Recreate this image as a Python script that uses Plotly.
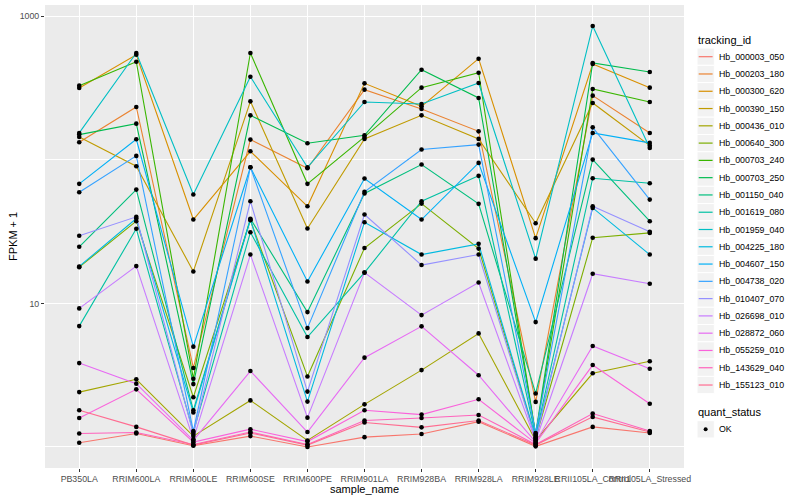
import numpy as np
import plotly.graph_objects as go

samples = ["PB350LA", "RRIM600LA", "RRIM600LE", "RRIM600SE", "RRIM600PE",
           "RRIM901LA", "RRIM928BA", "RRIM928LA", "RRIM928LE",
           "RRII105LA_Control", "RRII105LA_Stressed"]

tracking_ids = ["Hb_000003_050", "Hb_000203_180", "Hb_000300_620", "Hb_000390_150",
                "Hb_000436_010", "Hb_000640_300", "Hb_000703_240", "Hb_000703_250",
                "Hb_001150_040", "Hb_001619_080", "Hb_001959_040", "Hb_004225_180",
                "Hb_004607_150", "Hb_004738_020", "Hb_010407_070", "Hb_026698_010",
                "Hb_028872_060", "Hb_055259_010", "Hb_143629_040", "Hb_155123_010"]

colors = ["#F8766D", "#EA8331", "#D89000", "#C09B00", "#A3A500", "#7CAE00", "#39B600",
          "#00BB4E", "#00BF7D", "#00C1A3", "#00BFC4", "#00BAE0", "#00B0F6", "#35A2FF",
          "#9590FF", "#C77CFF", "#E76BF3", "#FA62DB", "#FF62BC", "#FF6C91"]

# FPKM + 1 per sample (same order as samples)
hb_000003_050 = [1.07, 1.24, 1.02, 1.19, 1.00, 1.17, 1.23, 1.50, 1.01, 1.38, 1.25]
hb_000203_180 = [132.6, 233.8, 3.55, 138.5, 87.4, 308.5, 226.4, 158.1, 2.06, 280.3, 154.1]
hb_000300_620 = [316.9, 540.5, 38.4, 114.8, 47.5, 341.4, 236.0, 507.0, 28.5, 465.6, 318.6]
hb_000390_150 = [144.5, 90.3, 16.7, 255.8, 33.3, 140.0, 204.3, 140.0, 36.2, 249.3, 125.7]
hb_000436_010 = [2.41, 2.96, 1.19, 2.11, 1.11, 1.98, 3.43, 6.18, 1.11, 3.26, 3.95]
hb_000640_300 = [17.9, 37.4, 2.22, 38.0, 3.10, 24.3, 49.6, 24.1, 1.15, 28.7, 31.0]
hb_000703_240 = [328.9, 483.2, 2.99, 555.4, 68.1, 144.5, 318.6, 405.1, 1.21, 312.0, 253.3]
hb_000703_250 = [150.0, 178.9, 2.74, 204.3, 130.5, 148.3, 425.0, 270.1, 1.23, 473.2, 409.6]
hb_001150_040 = [24.8, 62.1, 1.80, 38.9, 8.70, 58.3, 92.8, 49.4, 2.36, 100.5, 37.4]
hb_001619_080 = [6.95, 33.1, 1.27, 31.3, 5.83, 16.4, 51.5, 77.4, 1.19, 74.5, 68.7]
hb_001959_040 = [154.1, 555.4, 57.4, 379.9, 88.8, 253.3, 245.3, 343.5, 20.5, 856.0, 121.2]
hb_004225_180 = [18.1, 39.0, 1.74, 38.4, 2.07, 36.8, 21.9, 26.0, 1.17, 46.3, 21.9]
hb_004607_150 = [68.1, 139.1, 5.00, 88.8, 14.2, 74.1, 38.4, 95.3, 7.41, 154.1, 131.3]
hb_004738_020 = [59.5, 106.6, 1.29, 88.8, 6.73, 59.9, 118.0, 127.8, 1.25, 168.6, 52.9]
hb_010407_070 = [29.6, 40.1, 1.23, 51.5, 2.43, 41.6, 18.5, 21.9, 1.13, 47.5, 31.6]
hb_026698_010 = [9.23, 18.2, 1.13, 21.9, 1.60, 16.4, 8.29, 14.0, 1.10, 16.1, 13.7]
hb_028872_060 = [3.84, 2.76, 1.11, 3.38, 1.27, 4.19, 6.92, 3.16, 1.08, 5.05, 3.51]
hb_055259_010 = [1.59, 2.52, 1.08, 1.33, 1.09, 1.80, 1.68, 2.15, 1.06, 3.72, 2.00]
hb_143629_040 = [1.24, 1.26, 1.04, 1.27, 1.04, 1.53, 1.59, 1.67, 1.04, 1.71, 1.29]
hb_155123_010 = [1.80, 1.38, 1.03, 1.25, 1.03, 1.48, 1.37, 1.53, 1.03, 1.62, 1.27]

series_values = [hb_000003_050, hb_000203_180, hb_000300_620, hb_000390_150,
                 hb_000436_010, hb_000640_300, hb_000703_240, hb_000703_250,
                 hb_001150_040, hb_001619_080, hb_001959_040, hb_004225_180,
                 hb_004607_150, hb_004738_020, hb_010407_070, hb_026698_010,
                 hb_028872_060, hb_055259_010, hb_143629_040, hb_155123_010]

quant_levels = ["OK"]

FONT = "Liberation Sans, Arial, Helvetica, sans-serif"

fig = go.Figure()

# lines first (ggplot geom_line), then points on top
for name, col, vals in zip(tracking_ids, colors, series_values):
    fig.add_trace(go.Scatter(x=samples, y=vals, mode="lines", name=name,
                             line=dict(color=col, width=1.1), showlegend=False,
                             hoverinfo="skip"))
for name, vals in zip(tracking_ids, series_values):
    fig.add_trace(go.Scatter(x=samples, y=vals, mode="markers", name=name,
                             marker=dict(color="black", size=4.6), showlegend=False))

all_vals = np.concatenate([np.array(v) for v in series_values])
lo, hi = np.log10(all_vals.min()), np.log10(all_vals.max())
pad = (hi - lo) * 0.05

W, H = 800, 500
ML, MR, MT, MB = 45, 116, 5, 32
PW, PH = W - ML - MR, H - MT - MB


def px(x):
    return (x - ML) / PW


def py(y):
    return (H - MB - y) / PH


fig.update_layout(
    width=W, height=H,
    margin=dict(l=ML, r=MR, t=MT, b=MB),
    paper_bgcolor="white", plot_bgcolor="#EBEBEB",
    font=dict(family=FONT, size=9, color="black"),
    showlegend=False,
    xaxis=dict(type="category", categoryorder="array", categoryarray=samples,
               range=[-0.6, len(samples) - 0.4], showgrid=True, gridcolor="white",
               gridwidth=1.07, zeroline=False, showline=False, ticks="outside",
               ticklen=2.5, tickwidth=1, tickcolor="#333333", tickangle=0,
               automargin=False,
               tickfont=dict(size=8.8, color="#4D4D4D", family=FONT)),
    yaxis=dict(type="log", range=[lo - pad, hi + pad], tickvals=[10, 1000],
               ticktext=["10", "1000"], showgrid=True, gridcolor="white",
               gridwidth=1.07, zeroline=False, showline=False, ticks="outside",
               ticklen=3, tickwidth=1, tickcolor="#333333", automargin=False,
               tickfont=dict(size=8.8, color="#4D4D4D", family=FONT),
               minor=dict(tickvals=[1, 100], showgrid=True, gridcolor="white",
                          gridwidth=0.55, ticks="")),
)

annotations = []
shapes = []

# axis titles
annotations.append(dict(text="sample_name", xref="paper", yref="paper",
                        x=px(364.5), y=py(489.3), xanchor="center", yanchor="middle",
                        showarrow=False, font=dict(size=11, color="black", family=FONT)))
annotations.append(dict(text="FPKM + 1", xref="paper", yref="paper",
                        x=px(12.5), y=py(236.5), xanchor="center", yanchor="middle",
                        textangle=-90, showarrow=False,
                        font=dict(size=11, color="black", family=FONT)))

# legend: tracking_id
annotations.append(dict(text="tracking_id", xref="paper", yref="paper",
                        x=px(695.5), y=py(40.5), xanchor="left", yanchor="middle",
                        showarrow=False, font=dict(size=11, color="black", family=FONT)))
key_x0, key_x1 = 697.0, 714.3
step = 17.28
for i, (name, col) in enumerate(zip(tracking_ids, colors)):
    yc = 56.7 + step * i
    shapes.append(dict(type="rect", xref="paper", yref="paper",
                       x0=px(key_x0), x1=px(key_x1), y0=py(yc - step / 2), y1=py(yc + step / 2),
                       fillcolor="#F2F2F2", line=dict(color="white", width=1), layer="above"))
    shapes.append(dict(type="line", xref="paper", yref="paper",
                       x0=px(key_x0 + 1.7), x1=px(key_x1 - 1.7), y0=py(yc), y1=py(yc),
                       line=dict(color=col, width=1.2), layer="above"))
    annotations.append(dict(text=name, xref="paper", yref="paper",
                            x=px(716.5), y=py(yc), xanchor="left", yanchor="middle",
                            showarrow=False, font=dict(size=8.8, color="black", family=FONT)))

# legend: quant_status
annotations.append(dict(text="quant_status", xref="paper", yref="paper",
                        x=px(695.5), y=py(412.3), xanchor="left", yanchor="middle",
                        showarrow=False, font=dict(size=11, color="black", family=FONT)))
for j, lev in enumerate(quant_levels):
    yc = 429.3 + step * j
    shapes.append(dict(type="rect", xref="paper", yref="paper",
                       x0=px(key_x0), x1=px(key_x1), y0=py(yc - step / 2), y1=py(yc + step / 2),
                       fillcolor="#F2F2F2", line=dict(color="white", width=1), layer="above"))
    cx = (key_x0 + key_x1) / 2
    shapes.append(dict(type="circle", xref="paper", yref="paper",
                       x0=px(cx - 2), x1=px(cx + 2), y0=py(yc - 2), y1=py(yc + 2),
                       fillcolor="black", line=dict(color="black", width=0), layer="above"))
    annotations.append(dict(text=lev, xref="paper", yref="paper",
                            x=px(716.5), y=py(yc), xanchor="left", yanchor="middle",
                            showarrow=False, font=dict(size=8.8, color="black", family=FONT)))

fig.update_layout(annotations=annotations, shapes=shapes)

fig.write_html(
    "out.html",
    config={"displayModeBar": False},
    post_script="document.body.style.margin='0px';document.body.style.overflow='hidden';"
                "document.documentElement.style.overflow='hidden';",
)
